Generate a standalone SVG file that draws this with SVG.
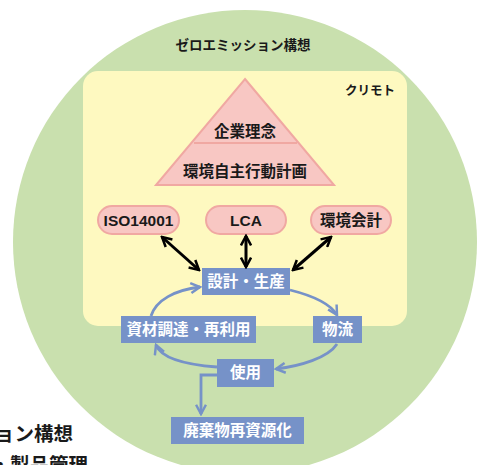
<svg xmlns="http://www.w3.org/2000/svg" width="478" height="465" viewBox="0 0 478 465">
<style>
text{font-family:"Noto Sans CJK JP","Liberation Sans",sans-serif;font-weight:bold;}
.dark{fill:#1a1a1a;}
.pinkbox{fill:#f8c7c3;stroke:#f0a8a2;stroke-width:2;}
.bluebox{fill:#7692c8;}
.wt{fill:#ffffff;font-size:15.5px;text-anchor:middle;}
.pt{fill:#1a1a1a;font-size:15.5px;text-anchor:middle;}
.lat{font-family:"Liberation Sans",sans-serif;}
.blk{stroke:#000;stroke-width:3;fill:none;}
.blu{stroke:#7692c8;stroke-width:2.8;fill:none;}
</style>
<defs>
<marker id="ab" viewBox="0 0 10 10" refX="8.5" refY="5" markerWidth="4.2" markerHeight="4.2" orient="auto-start-reverse" markerUnits="strokeWidth">
<path d="M1,1 L8.5,5 L1,9" fill="none" stroke="#000" stroke-width="2"/>
</marker>
<marker id="au" viewBox="0 0 10 10" refX="8.5" refY="5" markerWidth="4.4" markerHeight="4.4" orient="auto" markerUnits="strokeWidth">
<path d="M1,1 L8.5,5 L1,9" fill="none" stroke="#7692c8" stroke-width="2"/>
</marker>
</defs>
<g id="zero-emission">
<circle cx="245" cy="242" r="232" fill="#c9e0ae"/>
<text x="243" y="50" class="dark" font-size="13.5" text-anchor="middle">ゼロエミッション構想</text>
</g>
<g id="kurimoto">
<rect x="83" y="71" width="324" height="255" rx="15" fill="#fef9c0"/>
<text x="395" y="95" class="dark" font-size="12.5" text-anchor="end">クリモト</text>
</g>
<g id="pyramid">
<polygon points="245,79 334,185 156,185" fill="#f8c7c3" stroke="#f0a8a2" stroke-width="2"/>
<line x1="194" y1="143" x2="297" y2="143" stroke="#f0a8a2" stroke-width="2"/>
<text x="245" y="137" class="pt" font-size="16">企業理念</text>
<text x="245" y="177" class="pt">環境自主行動計画</text>
</g>
<g id="iso14001">
<rect x="98" y="206" width="81" height="28" rx="14" class="pinkbox"/>
<text x="138.5" y="226" class="pt lat">ISO14001</text>
</g>
<g id="lca">
<rect x="206" y="206" width="80" height="28" rx="14" class="pinkbox"/>
<text x="246" y="226" class="pt lat">LCA</text>
</g>
<g id="env-accounting">
<rect x="311" y="206" width="80" height="28" rx="14" class="pinkbox"/>
<text x="351" y="226" class="pt">環境会計</text>
</g>
<g id="design">
<rect x="202" y="268" width="88" height="27" class="bluebox"/>
<text x="246" y="287" class="wt">設計・生産</text>
</g>
<g id="procurement">
<rect x="121" y="316" width="135" height="27" class="bluebox"/>
<text x="188.5" y="335" class="wt">資材調達・再利用</text>
</g>
<g id="logistics">
<rect x="313" y="316" width="49" height="27" class="bluebox"/>
<text x="337.5" y="335" class="wt">物流</text>
</g>
<g id="use">
<rect x="217" y="359" width="57" height="28" class="bluebox"/>
<text x="245.5" y="378" class="wt">使用</text>
</g>
<g id="recycling">
<rect x="171" y="417" width="133" height="27" class="bluebox"/>
<text x="237.5" y="436" class="wt">廃棄物再資源化</text>
</g>
<g id="connectors">
<line x1="162" y1="237" x2="199" y2="270" class="blk" marker-start="url(#ab)" marker-end="url(#ab)"/>
<line x1="246" y1="236" x2="246" y2="267" class="blk" marker-start="url(#ab)" marker-end="url(#ab)"/>
<line x1="331" y1="237" x2="293" y2="270" class="blk" marker-start="url(#ab)" marker-end="url(#ab)"/>
<path d="M151,316 C156,300 175,290 200,287" class="blu" marker-end="url(#au)"/>
<path d="M290,290 C310,295 330,303 337,315" class="blu" marker-end="url(#au)"/>
<path d="M337,344 C328,358 300,366 276,369" class="blu" marker-end="url(#au)"/>
<path d="M217,367 C190,365 162,360 156,345" class="blu" marker-end="url(#au)"/>
<path d="M217,375 L201,375 L201,414" class="blu" marker-end="url(#au)"/>
</g>
<g id="clipped-text">
<text x="73" y="441" class="dark" font-size="19.5" text-anchor="end">ョン構想</text>
<text x="88" y="472" class="dark" font-size="19.5" text-anchor="end">・製品管理</text>
</g>
</svg>
